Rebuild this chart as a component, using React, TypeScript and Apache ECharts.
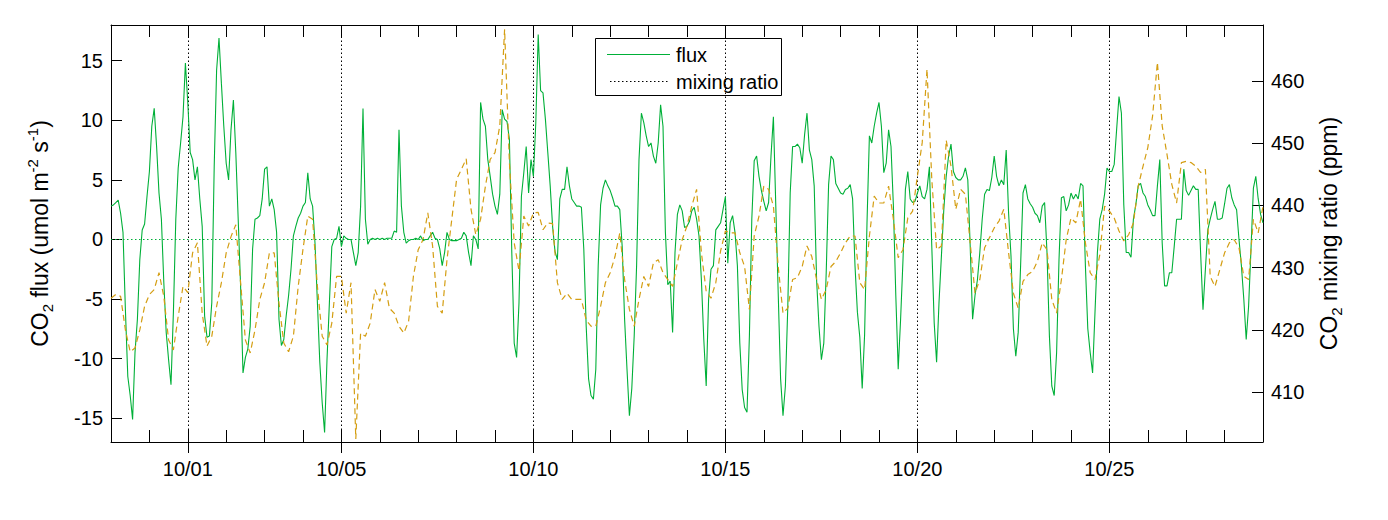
import React, { useEffect, useRef } from "react";
import * as echarts from "echarts";

// ---- data; x in days since 9/29 00:00 ----
const START_DAY = 0;
const FLUX_STEP_DAYS = 1 / 16; // 1.5-hourly
const MIX_STEP_DAYS = 1 / 8; // 3-hourly

const FLUX = [
  2.8, 2.9, 3.1, 3.3, 2.2, 0.6, -5.9, -11.5, -13.1, -15.1, -9.5, -6.7, -1.7, 0.8, 1.3, 3.6,
  5.7, 9.5, 11.0, 7.8, 3.9, 1.7, -3.6, -7.8, -10.1, -12.2, -6.1, 1.7, 6.0, 8.1, 10.3, 14.8,
  11.5, 7.3, 6.7, 5.0, 6.1, 3.4, 1.1, -6.4, -8.2, -8.1, -5.3, 6.1, 14.2, 16.9, 13.1, 9.5,
  6.4, 5.0, 9.2, 11.7, 7.3, 1.7, -3.9, -11.2, -9.9, -9.2, -7.3, -0.8, 1.7, 1.8, 2.0, 3.4,
  5.9, 6.1, 2.8, 3.4, 2.5, 0.6, -6.7, -8.9, -8.4, -6.4, -4.7, -2.5, 0.3, 1.1, 1.8, 2.2,
  2.8, 3.1, 5.6, 3.4, 2.8, -0.3, -5.3, -10.3, -13.7, -16.2, -10.1, -5.3, -0.6, 0.0, 0.1, 1.1,
  -0.6, 0.3, 0.1, 0.0, 0.0, -1.1, -2.2, -1.1, 2.8, 11.0, 1.7, -0.4, 0.0, 0.1, 0.0, 0.1,
  0.0, 0.1, 0.0, 0.1, 0.1, 0.1, 0.7, 0.6, 9.2, 2.8, 0.6, -0.3, -0.1, 0.0, 0.0, 0.1,
  0.0, 0.3, -0.1, 0.0, 0.0, 0.3, 0.6, 0.1, 0.0, -0.8, -2.2, -1.1, 0.6, 0.0, -0.1, -0.1,
  -0.1, 0.0, 0.1, 0.6, 0.3, -1.1, -2.2, 0.3, 0.0, -0.8, 11.5, 10.1, 9.5, 6.7, 5.3, 3.8,
  2.8, 2.1, 3.8, 10.9, 10.1, 9.9, 8.4, -1.1, -8.7, -9.9, -5.3, 3.6, 5.6, 7.8, 3.9, 6.7,
  5.3, 9.8, 17.2, 12.5, 12.3, 10.1, 7.3, 4.5, 1.1, -1.0, -1.7, 3.4, 4.2, 4.2, 6.1, 4.5,
  3.4, 3.1, 2.8, 2.8, 2.7, -0.8, -7.3, -11.7, -13.1, -13.4, -10.9, -2.2, 2.9, 4.3, 5.0, 4.5,
  4.1, 3.5, 2.8, 2.8, 2.5, -0.6, -6.7, -10.9, -14.8, -12.5, -8.1, -2.2, 6.7, 10.6, 9.8, 8.7,
  7.8, 8.1, 7.0, 6.4, 8.1, 11.3, 9.5, 0.6, -3.8, -3.5, -7.8, -1.1, 2.1, 2.9, 2.4, 1.0,
  1.1, 1.5, 2.4, 2.7, 1.7, 0.3, -3.4, -8.4, -12.3, -5.0, -2.5, -2.2, 0.8, 1.1, 1.4, 2.5,
  3.6, -2.0, 1.4, 2.0, 0.6, -2.2, -8.7, -12.6, -14.1, -14.5, -8.1, 1.7, 6.6, 7.0, 5.3, 4.1,
  3.2, 2.4, 3.1, 7.0, 10.3, 2.8, -4.5, -11.7, -14.8, -12.3, -5.6, 3.9, 7.8, 7.8, 8.0, 7.7,
  6.4, 8.8, 10.6, 7.5, 6.7, 4.5, -3.4, -7.3, -10.1, -8.7, -2.8, 4.6, 7.0, 6.7, 4.7, 4.3,
  3.9, 3.8, 4.2, 4.3, 4.6, 3.4, -2.2, -6.1, -8.2, -12.5, -8.0, 1.4, 8.7, 8.1, 9.5, 10.6,
  11.5, 9.5, 5.6, 6.4, 9.2, 7.8, 2.8, -4.7, -10.9, -6.7, -1.7, 4.2, 5.7, 3.4, 3.1, 3.2,
  3.9, 4.5, 3.6, 3.4, 4.2, 6.1, -0.6, -7.0, -10.3, -5.3, -1.4, 2.5, 5.3, 7.0, 8.0, 5.7,
  5.2, 5.0, 5.0, 5.3, 6.0, 5.0, -0.6, -6.7, -4.7, -3.4, -1.1, 1.7, 3.8, 4.2, 4.1, 5.2,
  7.0, 5.3, 4.5, 5.0, 4.6, 7.5, 2.2, -1.4, -7.5, -9.8, -7.8, -2.2, 3.9, 4.6, 3.4, 3.0,
  2.7, 2.2, 2.0, 1.4, 2.8, 3.1, -1.1, -8.1, -12.3, -13.1, -9.5, -1.7, 3.5, 3.6, 2.4, 2.9,
  3.9, 3.4, 3.8, 3.4, 4.7, 4.5, -2.2, -7.5, -9.5, -11.2, -6.1, -1.1, 1.7, 2.5, 3.8, 6.0,
  5.7, 5.7, 6.3, 9.2, 12.0, 10.6, 2.9, -1.1, -1.1, -1.5, 1.7, 2.9, 4.5, 4.7, 3.9, 3.6,
  2.9, 2.5, 2.0, 2.0, 4.5, 6.7, -0.3, -3.9, -3.9, -2.8, -2.8, -0.6, 1.7, 1.7, 1.7, 5.9,
  4.1, 3.7, 4.1, 4.5, 4.2, 4.2, -1.1, -5.9, -2.5, 0.8, 1.7, 2.5, 3.2, 1.7, 1.7, 1.8,
  3.0, 4.3, 4.6, 3.5, 2.9, 2.5, 0.0, -2.2, -5.0, -8.4, -5.6, -0.8, 4.3, 5.3, 3.4, 2.1,
  1.4,
];

const MIXING = [
  425.1, 425.7, 425.4, 420.0, 416.5, 417.1, 420.0, 423.8, 425.7, 426.5, 429.2, 425.4, 418.4, 416.8, 422.2, 427.0,
  426.0, 432.4, 434.0, 422.7, 417.4, 419.0, 423.8, 427.6, 432.4, 435.0, 436.9, 427.6, 418.4, 416.3, 420.0, 424.9,
  427.6, 432.4, 432.4, 424.3, 417.9, 416.5, 419.0, 427.0, 433.0, 438.3, 437.8, 427.0, 419.0, 417.6, 421.1, 428.6,
  428.6, 422.7, 427.6, 402.5, 419.5, 419.0, 421.1, 426.5, 424.6, 427.6, 423.5, 422.7, 420.6, 419.5, 421.4, 428.6,
  432.9, 434.5, 438.8, 433.5, 423.8, 422.7, 431.3, 437.8, 444.2, 445.8, 447.5, 439.4, 435.3, 437.8, 443.1, 447.4,
  448.5, 452.8, 468.3, 446.9, 434.0, 429.5, 438.3, 436.7, 438.8, 438.9, 436.1, 437.2, 437.1, 427.6, 424.9, 425.9,
  424.9, 424.9, 424.9, 421.6, 420.6, 420.6, 423.8, 427.6, 429.2, 431.8, 435.6, 428.1, 423.3, 420.6, 424.9, 428.6,
  427.0, 430.8, 431.3, 429.2, 428.1, 427.0, 430.8, 434.5, 436.7, 439.9, 442.6, 432.4, 426.2, 425.1, 427.6, 432.7,
  435.9, 435.6, 435.6, 432.4, 430.2, 423.3, 435.1, 438.3, 443.1, 442.6, 439.9, 430.2, 422.7, 423.5, 428.1, 428.4,
  430.2, 433.5, 431.8, 428.1, 424.9, 426.5, 430.2, 431.0, 432.4, 434.0, 435.1, 435.1, 427.6, 426.5, 435.1, 441.5,
  440.4, 440.4, 443.1, 437.8, 431.6, 432.9, 438.0, 439.1, 444.7, 450.1, 461.9, 444.2, 432.9, 433.5, 450.5, 446.3,
  439.4, 442.6, 441.8, 434.0, 425.9, 428.1, 433.2, 434.8, 436.4, 437.5, 439.4, 432.4, 425.9, 423.5, 427.8, 428.9,
  429.4, 431.0, 434.0, 432.9, 424.9, 422.7, 428.1, 434.5, 438.0, 437.2, 441.0, 434.0, 429.2, 428.1, 432.1, 439.9,
  439.1, 438.0, 435.9, 434.3, 435.3, 437.2, 443.1, 446.3, 449.3, 454.4, 463.0, 452.8, 448.2, 443.4, 440.4, 446.9,
  447.1, 446.9, 446.3, 445.3, 445.8, 428.6, 427.0, 429.7, 432.4, 434.0, 434.5, 433.2, 428.6, 428.1, 437.8, 435.6,
  439.9,
];

const X_MIN = 0;
const X_MAX = 30;
const X_MAJOR_DAYS = [2, 6, 11, 16, 21, 26];
const X_TICK_LABELS = ["10/01", "10/05", "10/10", "10/15", "10/20", "10/25"];
const X_ALL_DAYS = Array.from({ length: 29 }, (_, k) => k + 1);

const FLUX_MIN = -17;
const FLUX_MAX = 18;
const FLUX_TICKS = [-15, -10, -5, 0, 5, 10, 15];

const MIX_MIN = 402;
const MIX_MAX = 469;
const MIX_TICKS = [410, 420, 430, 440, 450, 460];

const LEGEND_LABELS = ["flux", "mixing ratio"];

const GREEN = "#00B038";
const ORANGE = "#D49E12";
const FONT = '"Liberation Sans", Arial, Helvetica, sans-serif';

export default function App() {
  const ref = useRef<HTMLDivElement>(null);

  useEffect(() => {
    if (!ref.current) return;
    const chart = echarts.init(ref.current, undefined, { renderer: "svg" });

    const fluxData = FLUX.map((v, i) => [START_DAY + i * FLUX_STEP_DAYS, v]);
    const mixData = MIXING.map((v, i) => [START_DAY + i * MIX_STEP_DAYS, v]);

    const baseAxis = {
      type: "value" as const,
      min: X_MIN,
      max: X_MAX,
      splitLine: { show: false },
    };

    const nameRich = {
      b: { fontSize: 23, fontFamily: FONT, color: "#000", lineHeight: 30 },
      sub: { fontSize: 15, fontFamily: FONT, color: "#000", lineHeight: 12, verticalAlign: "bottom" },
      sup: { fontSize: 15, fontFamily: FONT, color: "#000", lineHeight: 10, verticalAlign: "top" },
    };

    const option: any = {
      animation: false,
      backgroundColor: "#fff",
      grid: { left: 111, top: 25, width: 1152, height: 417, containLabel: false },
      xAxis: [
        {
          ...baseAxis,
          position: "bottom",
          axisLine: { show: true, onZero: false, lineStyle: { color: "#000", width: 1 } },
          axisTick: {
            show: true,
            inside: false,
            length: 11,
            customValues: X_MAJOR_DAYS,
            lineStyle: { color: "#000", width: 1 },
          },
          axisLabel: {
            show: true,
            customValues: X_MAJOR_DAYS,
            margin: 17,
            fontSize: 20,
            fontFamily: FONT,
            color: "#000",
            formatter: (v: number) => {
              const k = X_MAJOR_DAYS.indexOf(Math.round(v));
              return k >= 0 ? X_TICK_LABELS[k] : "";
            },
          },
        },
        {
          ...baseAxis,
          position: "bottom",
          axisLine: { show: false, onZero: false },
          axisTick: {
            show: true,
            inside: true,
            length: 12,
            customValues: X_ALL_DAYS,
            lineStyle: { color: "#000", width: 1 },
          },
          axisLabel: { show: false },
        },
        {
          ...baseAxis,
          position: "top",
          axisLine: { show: true, onZero: false, lineStyle: { color: "#000", width: 1 } },
          axisTick: {
            show: true,
            inside: true,
            length: 12,
            customValues: X_ALL_DAYS,
            lineStyle: { color: "#000", width: 1 },
          },
          axisLabel: { show: false },
        },
      ],
      yAxis: [
        {
          type: "value",
          position: "left",
          min: FLUX_MIN,
          max: FLUX_MAX,
          splitLine: { show: false },
          axisLine: { show: true, onZero: false, lineStyle: { color: "#000", width: 1 } },
          axisTick: {
            show: true,
            inside: true,
            length: 11,
            customValues: FLUX_TICKS,
            lineStyle: { color: "#000", width: 1 },
          },
          axisLabel: {
            customValues: FLUX_TICKS,
            margin: 8,
            fontSize: 20,
            fontFamily: FONT,
            color: "#000",
          },
          name: "{b|CO}{sub|2}{b| flux (umol m}{sup|-2}{b| s}{sup|-1}{b|)}",
          nameLocation: "middle",
          nameRotate: 90,
          nameGap: 56,
          nameTextStyle: { fontSize: 23, fontFamily: FONT, color: "#000", rich: nameRich },
        },
        {
          type: "value",
          position: "right",
          min: MIX_MIN,
          max: MIX_MAX,
          splitLine: { show: false },
          axisLine: { show: true, onZero: false, lineStyle: { color: "#000", width: 1 } },
          axisTick: {
            show: true,
            inside: true,
            length: 11,
            customValues: MIX_TICKS,
            lineStyle: { color: "#000", width: 1 },
          },
          axisLabel: {
            customValues: MIX_TICKS,
            margin: 8,
            fontSize: 20,
            fontFamily: FONT,
            color: "#000",
          },
          name: "{b|CO}{sub|2}{b| mixing ratio (ppm)}",
          nameLocation: "middle",
          nameRotate: 90,
          nameGap: 51,
          nameTextStyle: { fontSize: 23, fontFamily: FONT, color: "#000", rich: nameRich },
        },
      ],
      series: [
        {
          name: LEGEND_LABELS[0],
          type: "line",
          xAxisIndex: 0,
          yAxisIndex: 0,
          data: fluxData,
          showSymbol: false,
          symbol: "none",
          lineStyle: { color: GREEN, width: 1.1 },
          itemStyle: { color: GREEN },
          z: 2,
          markLine: {
            silent: true,
            symbol: ["none", "none"],
            label: { show: false },
            animation: false,
            lineStyle: { color: GREEN, type: [1.5, 2.5], width: 1 },
            emphasis: { disabled: true },
            data: [{ yAxis: 0 }],
          },
        },
        {
          name: LEGEND_LABELS[1],
          type: "line",
          xAxisIndex: 0,
          yAxisIndex: 1,
          data: mixData,
          showSymbol: false,
          symbol: "none",
          lineStyle: { color: ORANGE, width: 1.2, type: [6, 4] },
          itemStyle: { color: ORANGE },
          z: 3,
          markLine: {
            silent: true,
            symbol: ["none", "none"],
            label: { show: false },
            animation: false,
            z: 1,
            lineStyle: { color: "#000", type: [1.5, 2.5], width: 1 },
            emphasis: { disabled: true },
            data: X_MAJOR_DAYS.map((d) => ({ xAxis: d })),
          },
        },
      ],
      graphic: [
        {
          type: "group",
          z: 100,
          children: [
            {
              type: "rect",
              shape: { x: 595.5, y: 38.5, width: 186, height: 57 },
              style: { fill: "#fff", stroke: "#000", lineWidth: 1 },
            },
            {
              type: "line",
              shape: { x1: 607, y1: 54.5, x2: 670, y2: 54.5 },
              style: { stroke: GREEN, lineWidth: 1.2 },
            },
            {
              type: "line",
              shape: { x1: 610, y1: 81.5, x2: 668, y2: 81.5 },
              style: { stroke: "#000", lineWidth: 1, lineDash: [1.5, 2.5] },
            },
            {
              type: "text",
              style: {
                text: LEGEND_LABELS[0],
                x: 676,
                y: 55,
                font: `20px ${FONT}`,
                fill: "#000",
                textVerticalAlign: "middle",
                verticalAlign: "middle",
              },
            },
            {
              type: "text",
              style: {
                text: LEGEND_LABELS[1],
                x: 676,
                y: 82,
                font: `20px ${FONT}`,
                fill: "#000",
                textVerticalAlign: "middle",
                verticalAlign: "middle",
              },
            },
          ],
        },
      ],
    };

    chart.setOption(option);
    return () => chart.dispose();
  }, []);

  return (
    <div
      ref={ref}
      style={{ position: "fixed", left: 0, top: 0, width: 1388, height: 520, background: "#fff" }}
    />
  );
}
